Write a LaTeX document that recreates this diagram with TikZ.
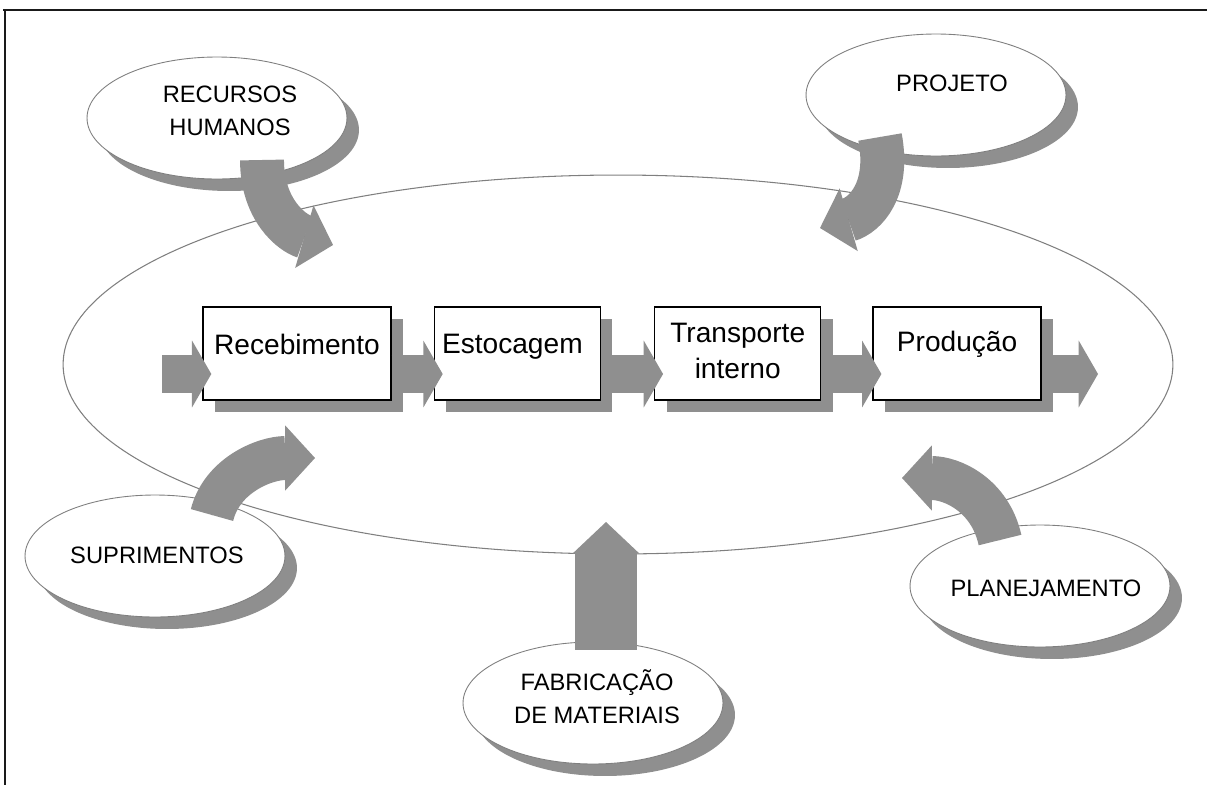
\documentclass[tikz,border=0pt]{standalone}
\usepackage{fontspec}
\setmainfont{Liberation Sans}
\usetikzlibrary{arrows.meta,positioning,shapes.geometric,shadows,calc}
\definecolor{arrowgray}{HTML}{8F8F8F}
\definecolor{rimgray}{HTML}{7F7F7F}
\definecolor{framegray}{HTML}{1A1A1A}

\tikzset{
  stepbox/.style={draw=black, line width=0.8pt, fill=white, inner sep=0pt,
    minimum height=1.86cm,
    drop shadow={fill=arrowgray, opacity=1, shadow xshift=0.24cm, shadow yshift=-0.24cm}},
  boxtext/.style={font=\fontsize{16}{20.4}\selectfont, align=center, inner sep=0pt},
  satellite/.style={ellipse, draw=rimgray, line width=0.5pt, fill=white,
    minimum width=5.2cm, minimum height=2.44cm, inner sep=0pt,
    drop shadow={fill=arrowgray, opacity=1, shadow xshift=0.24cm, shadow yshift=-0.24cm}},
  sattext/.style={font=\fontsize{13.5}{18.7}\selectfont, align=center, inner sep=0pt},
  flow/.style={arrowgray, line width=21.5pt,
    preaction={draw, -, shorten >=9pt},
    -{Triangle[width=38pt,length=11pt,line width=0.8pt]}},
  feed/.style={arrowgray, line width=25pt,
    preaction={draw, -, shorten >=14pt},
    -{Triangle[width=37pt,length=17pt,line width=0.8pt]}},
}

\begin{document}
\begin{tikzpicture}[x=0.02cm, y=-0.02cm]
\useasboundingbox (0,0) rectangle (1207,785);

% Frame
\draw[framegray, line width=1pt] (3,10) -- (1207,10);
\draw[framegray, line width=1pt] (5,10) -- (5,785);

% Outer cycle
\draw[rimgray, line width=0.6pt] (618,364.5) ellipse [x radius=11.1cm, y radius=3.79cm];

% Process steps
\node[stepbox, minimum width=3.76cm] (rec) at (297,353.5) {};
\node[stepbox, minimum width=3.32cm, right=0.84cm of rec] (est) {};
\node[stepbox, minimum width=3.32cm, right=1.06cm of est] (trans) {};
\node[stepbox, minimum width=3.36cm, right=1.02cm of trans] (prod) {};

\node[boxtext, below=0.55cm of rec.north] (rectext) {Recebimento};
\node[boxtext, below=0.55cm of est.north, xshift=-0.1cm] (esttext) {Estocagem};
\node[boxtext, below=0.33cm of trans.north] (transtext) {Transporte\\interno};
\node[boxtext, below=0.49cm of prod.north] (prodtext) {Produção};

% Material flow
\coordinate (flowin) at (162,374);
\coordinate (flowout) at (1098,374);
\draw[flow] (flowin) -- ($(rec.west |- flowin)+(9,0)$);
\draw[flow] (rec.east |- flowin) -- ($(est.west |- flowin)+(9,0)$);
\draw[flow] (est.east |- flowin) -- ($(trans.west |- flowin)+(9,0)$);
\draw[flow] (trans.east |- flowin) -- ($(prod.west |- flowin)+(9,0)$);
\draw[flow] (prod.east |- flowin) -- (flowout);

% Supporting areas
\node[satellite] (rh) at (217,118) {};
\node[sattext] (rhtext) at (230,110.5) {RECURSOS\\HUMANOS};
\node[satellite] (proj) at (936,95) {};
\node[sattext] (projtext) at (952,83) {PROJETO};
\node[satellite] (sup) at (155,556) {};
\node[sattext] (suptext) at (157,555) {SUPRIMENTOS};
\node[satellite] (plan) at (1040,586) {};
\node[sattext] (plantext) at (1046,588) {PLANEJAMENTO};
\node[satellite] (fab) at (593,703) {};
\node[sattext] (fabtext) at (597,697) {FABRICAÇÃO\\DE MATERIAIS};

% Feeding arrows
\coordinate (rhtip) at (333,245);
\coordinate (projtip) at (820,228);
\coordinate (suptip) at (315,458);
\coordinate (plantip) at (902,478);
\coordinate (fabtip) at (606,522);
\draw[feed] ($(rh.center)+(45,42)$) .. controls +(0,50) and +(-41,-12) .. (rhtip);
\draw[feed] ($(proj.center)+(-56,42)$) .. controls +(10,53) and +(45,-13) .. (projtip);
\draw[feed] ($(sup.center)+(57,-41)$) .. controls +(10,-40) and +(-50,0) .. (suptip);
\draw[feed] ($(plan.center)+(-40,-46)$) .. controls +(-10,-45) and +(50,0) .. (plantip);
\draw[feed, line width=35pt, preaction={draw, -, shorten >=15pt},
  -{Triangle[width=38pt,length=18pt,line width=0.8pt]}]
  ($(fab.north)+(13,8)$) -- (fabtip);
\end{tikzpicture}
\end{document}
